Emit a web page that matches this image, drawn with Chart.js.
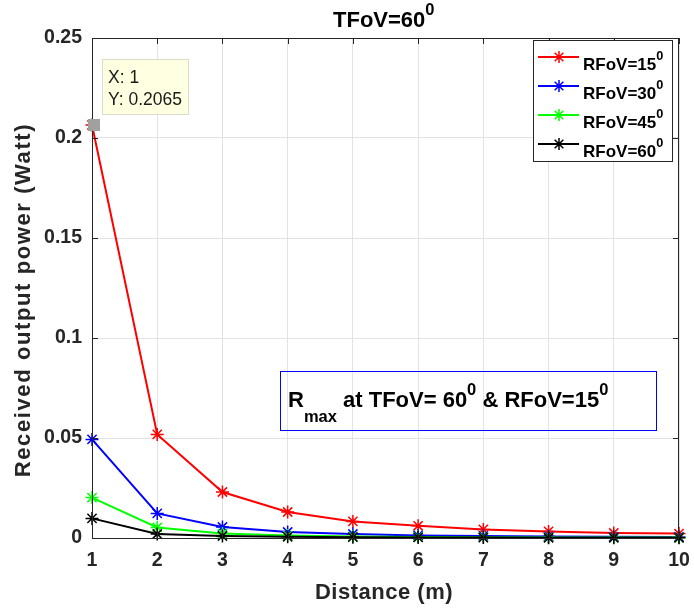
<!DOCTYPE html>
<html>
<head>
<meta charset="utf-8">
<script src="https://cdn.jsdelivr.net/npm/chart.js@4/dist/chart.umd.min.js"></script>
<style>
  html, body { margin: 0; padding: 0; background: #fff; }
  #wrap { width: 694px; height: 613px; }
</style>
</head>
<body>
<div id="wrap"><canvas id="c" width="694" height="613"></canvas></div>
<script>
const distances = [1, 2, 3, 4, 5, 6, 7, 8, 9, 10];
const rfov15 = [0.2065, 0.0518, 0.023, 0.013, 0.0083, 0.0061, 0.0043, 0.0033, 0.0025, 0.0022];
const rfov30 = [0.0493, 0.0123, 0.0055, 0.003, 0.002, 0.0013, 0.001, 0.0008, 0.0006, 0.0005];
const rfov45 = [0.0202, 0.0053, 0.0022, 0.0012, 0.0008, 0.0005, 0.0004, 0.0003, 0.0002, 0.0002];
const rfov60 = [0.0098, 0.002, 0.001, 0.0006, 0.0004, 0.0003, 0.0002, 0.0001, 0.0001, 0.0001];
const seriesNames = ['15', '30', '45', '60'];
const seriesColors = ['#ff0000', '#0000ff', '#00ff00', '#000000'];
const yTicks = [0, 0.05, 0.1, 0.15, 0.2, 0.25];

const FONT = '"Liberation Sans", Arial, sans-serif';
const AXIS = '#262626';

// text with superscript / subscript pieces
function drawRich(ctx, parts, x, y, size) {
  let cx = x;
  parts.forEach(p => {
    const s = p.s ? size * 0.75 : size;
    ctx.font = 'bold ' + s + 'px ' + FONT;
    const dy = p.s === 'sup' ? -size * 0.55 : p.s === 'sub' ? size * 0.68 : 0;
    ctx.fillText(p.t, cx, y + dy);
    cx += ctx.measureText(p.t).width;
  });
  return cx - x;
}
function richWidth(ctx, parts, size) {
  let w = 0;
  parts.forEach(p => {
    ctx.font = 'bold ' + (p.s ? size * 0.75 : size) + 'px ' + FONT;
    w += ctx.measureText(p.t).width;
  });
  return w;
}

const extras = {
  id: 'extras',
  afterDraw(chart) {
    const { ctx, chartArea: a, scales: { x, y } } = chart;
    ctx.save();
    ctx.textBaseline = 'alphabetic';
    ctx.fillStyle = '#000';

    // frame + inward ticks
    ctx.strokeStyle = AXIS;
    ctx.lineWidth = 1;
    ctx.strokeRect(a.left + 0.5, a.top + 0.5, a.right - a.left - 1, a.bottom - a.top);
    ctx.beginPath();
    distances.forEach((d, i) => {
      const px = Math.round(x.getPixelForValue(i)) + 0.5;
      ctx.moveTo(px, a.bottom); ctx.lineTo(px, a.bottom - 6);
      ctx.moveTo(px, a.top); ctx.lineTo(px, a.top + 6);
    });
    yTicks.forEach(v => {
      const py = Math.round(y.getPixelForValue(v)) + 0.5;
      ctx.moveTo(a.left, py); ctx.lineTo(a.left + 6, py);
      ctx.moveTo(a.right, py); ctx.lineTo(a.right - 6, py);
    });
    ctx.stroke();

    // title
    ctx.fillStyle = '#000';
    const title = [{ t: 'TFoV=60' }, { t: '0', s: 'sup' }];
    const tw = richWidth(ctx, title, 22);
    drawRich(ctx, title, 333, 27, 22);

    // axis titles
    ctx.fillStyle = AXIS;
    ctx.font = 'bold 22px ' + FONT;
    ctx.textAlign = 'center';
    ctx.letterSpacing = '0.5px';
    ctx.fillText('Distance (m)', 384, 599);
    ctx.save();
    ctx.translate(30, 300);
    ctx.rotate(-Math.PI / 2);
    ctx.letterSpacing = '1.6px';
    ctx.fillText('Received output power (Watt)', 0, 0);
    ctx.restore();
    ctx.letterSpacing = '0px';
    ctx.textAlign = 'left';

    // legend
    const lx = 533, ly = 40, lw = 139, lh = 121;
    ctx.fillStyle = '#fff';
    ctx.fillRect(lx, ly, lw, lh);
    ctx.strokeStyle = AXIS;
    ctx.strokeRect(lx + 0.5, ly + 0.5, lw, lh);
    seriesNames.forEach((n, i) => {
      const cy = 57 + i * 29;
      ctx.strokeStyle = seriesColors[i];
      ctx.lineWidth = 2;
      ctx.beginPath();
      ctx.moveTo(538, cy); ctx.lineTo(579, cy);
      ctx.stroke();
      ctx.lineWidth = 1.5;
      ctx.beginPath();
      const r = 6;
      ctx.moveTo(559 - r, cy); ctx.lineTo(559 + r, cy);
      ctx.moveTo(559, cy - r); ctx.lineTo(559, cy + r);
      const q = r * 0.72;
      ctx.moveTo(559 - q, cy - q); ctx.lineTo(559 + q, cy + q);
      ctx.moveTo(559 - q, cy + q); ctx.lineTo(559 + q, cy - q);
      ctx.stroke();
      ctx.fillStyle = '#000';
      drawRich(ctx, [{ t: 'RFoV=' + n }, { t: '0', s: 'sup' }], 583, cy + 12.5, 17);
    });

    // annotation box
    ctx.strokeStyle = '#0000ff';
    ctx.lineWidth = 1;
    ctx.strokeRect(280.5, 371.5, 376, 59);
    ctx.fillStyle = '#000';
    drawRich(ctx, [{ t: 'R' }, { t: 'max', s: 'sub' }, { t: ' at TFoV= 60' }, { t: '0', s: 'sup' },
      { t: ' & RFoV=15' }, { t: '0', s: 'sup' }], 288, 407, 22);

    // data tip
    const px = x.getPixelForValue(0), py = y.getPixelForValue(rfov15[0]);
    ctx.fillStyle = '#a0a0a0';
    ctx.fillRect(px - 4, py - 6, 12, 12);
    ctx.fillStyle = '#ffffe1';
    ctx.fillRect(102, 59, 86, 55);
    ctx.strokeStyle = '#dcdccc';
    ctx.strokeRect(102.5, 59.5, 86, 55);
    ctx.fillStyle = '#1a1a1a';
    ctx.font = '17.5px ' + FONT;
    ctx.fillText('X: 1', 108, 83);
    ctx.fillText('Y: 0.2065', 108, 105);

    ctx.restore();
  }
};

const allSeries = [rfov15, rfov30, rfov45, rfov60];
new Chart(document.getElementById('c'), {
  type: 'line',
  data: {
    labels: distances,
    datasets: allSeries.map((s, i) => ({
      label: 'RFoV=' + seriesNames[i],
      data: s,
      borderColor: seriesColors[i],
      backgroundColor: seriesColors[i],
      borderWidth: 2,
      pointStyle: 'star',
      pointRadius: 6.5,
      pointBorderWidth: 1.5,
      tension: 0,
      clip: false
    })).reverse()
  },
  options: {
    responsive: false,
    animation: false,
    layout: { padding: { top: 38, right: 15, left: 0, bottom: 0 } },
    plugins: { legend: { display: false }, tooltip: { enabled: false }, title: { display: false } },
    scales: {
      x: {
        offset: false,
        grid: { color: '#e3e3e3', drawTicks: false },
        border: { color: AXIS },
        ticks: { color: AXIS, padding: 11, font: { family: FONT, size: 19.5, weight: 'bold' } },
        afterFit(s) { s.height = 75; s.paddingRight = 0; s.paddingLeft = 0; }
      },
      y: {
        min: 0, max: 0.25,
        grid: { color: '#e3e3e3', drawTicks: false },
        border: { color: AXIS },
        ticks: { stepSize: 0.05, color: AXIS, padding: 10,
          font: { family: FONT, size: 19.5, weight: 'bold' },
          callback: v => String(+v.toFixed(2)) },
        afterFit(s) { s.width = 92; s.paddingTop = 0; s.paddingBottom = 0; }
      }
    }
  },
  plugins: [extras]
});
</script>
</body>
</html>
